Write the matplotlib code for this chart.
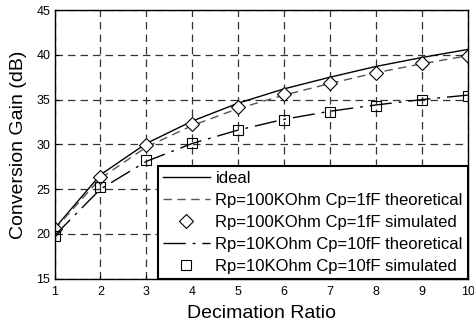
import matplotlib
matplotlib.use("Agg")
import matplotlib.pyplot as plt

plt.rcParams['font.family'] = ['Liberation Sans', 'DejaVu Sans']

ratio = [1, 2, 3, 4, 5, 6, 7, 8, 9, 10]
ideal = [20.6, 26.6, 30.1, 32.6, 34.6, 36.2, 37.5, 38.7, 39.7, 40.6]
rp100k_theory = [20.5, 26.2, 29.7, 32.1, 34.0, 35.5, 36.8, 38.0, 39.0, 39.9]
rp100k_sim = [20.5, 26.3, 29.9, 32.3, 34.2, 35.6, 36.9, 38.0, 39.1, 39.9]
rp10k_theory = [19.8, 25.0, 28.1, 30.1, 31.6, 32.8, 33.7, 34.4, 35.0, 35.5]
rp10k_sim = [19.8, 25.2, 28.2, 30.2, 31.6, 32.7, 33.6, 34.3, 34.9, 35.4]

labels = ["ideal",
          "Rp=100KOhm Cp=1fF theoretical",
          "Rp=100KOhm Cp=1fF simulated",
          "Rp=10KOhm Cp=10fF theoretical",
          "Rp=10KOhm Cp=10fF simulated"]

fig = plt.figure(figsize=(4.74, 3.24), dpi=100)
ax = fig.add_axes([0.115, 0.14, 0.872, 0.829])

ax.plot(ratio, ideal, color='black', lw=1.0, label=labels[0])
ax.plot(ratio, rp100k_theory, color='#555555', lw=1.0, ls=(0, (6, 4)), label=labels[1])
ax.plot(ratio, rp100k_sim, ls='none', marker='D', ms=7, mfc='white', mec='black',
        mew=0.8, label=labels[2])
ax.plot(ratio, rp10k_theory, color='black', lw=1.0, ls=(0, (16, 5, 2, 5)), label=labels[3])
ax.plot(ratio, rp10k_sim, ls='none', marker='s', ms=7.5, mfc='none', mec='black',
        mew=0.8, label=labels[4])

ax.set_xlim(1, 10)
ax.set_ylim(15, 45)
ax.set_xticks(ratio)
ax.set_yticks([15, 20, 25, 30, 35, 40, 45])
ax.grid(True, color='#333333', ls=(0, (6, 4)), lw=0.9)
ax.tick_params(labelsize=9, direction='in', length=3)
ax.tick_params(axis='x', pad=5)
ax.tick_params(axis='y', pad=3)
for s in ax.spines.values():
    s.set_linewidth(1.0)
ax.set_xlabel("Decimation Ratio", fontsize=14, labelpad=5)
ax.set_ylabel("Conversion Gain (dB)", fontsize=14, labelpad=7)

leg = ax.legend(loc='lower right', fontsize=12, frameon=True, fancybox=False,
                framealpha=1, edgecolor='black', borderpad=0.3, labelspacing=0.42,
                handlelength=2.8, handletextpad=0.35, borderaxespad=0.0)
leg.get_frame().set_linewidth(1.5)

fig.savefig("out.png", dpi=100)
